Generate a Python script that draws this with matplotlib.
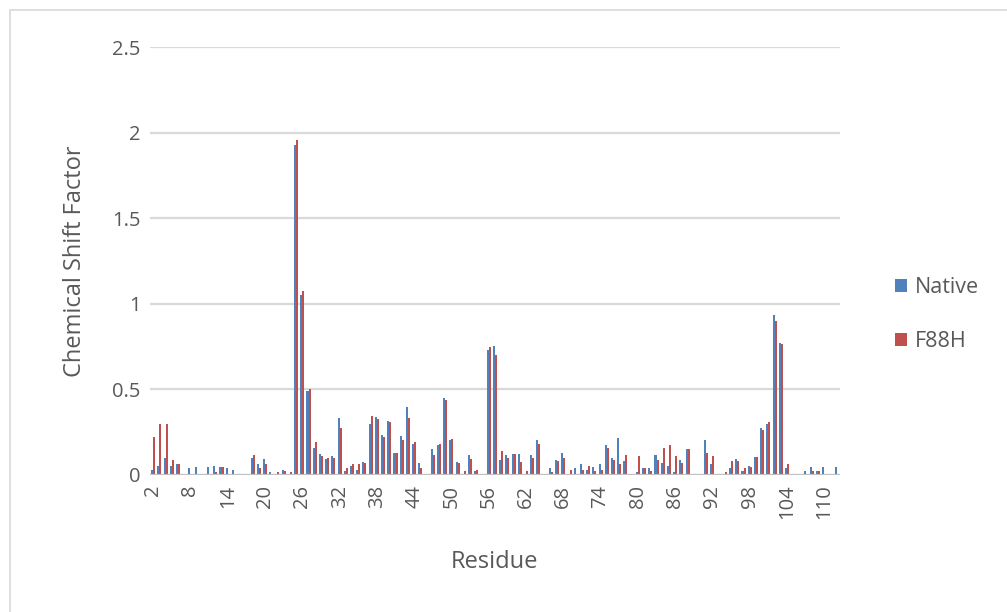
from __future__ import annotations

import matplotlib

matplotlib.use("Agg")
import matplotlib.pyplot as plt
import numpy as np
from matplotlib.patches import Rectangle


RESIDUES = list(range(2, 113))

NATIVE = [
    0.026, 0.055, 0.10, 0.055, 0.063, 0.005, 0.04, 0.047, 0.0, 0.047,    # 2-11
    0.055, 0.047, 0.04, 0.03, 0.0, 0.0, 0.10, 0.063, 0.094, 0.016,       # 12-21
    0.0, 0.03, 0.0, 1.93, 1.05, 0.49, 0.157, 0.125, 0.094, 0.11,         # 22-31
    0.33, 0.024, 0.055, 0.03, 0.078, 0.30, 0.34, 0.235, 0.316, 0.127,    # 32-41
    0.227, 0.394, 0.18, 0.07, 0.0, 0.15, 0.173, 0.45, 0.204, 0.078,      # 42-51
    0.008, 0.118, 0.024, 0.0, 0.73, 0.755, 0.086, 0.118, 0.125, 0.125,   # 52-61
    0.0, 0.118, 0.206, 0.0, 0.04, 0.088, 0.127, 0.008, 0.04, 0.063,      # 62-71
    0.03, 0.047, 0.063, 0.177, 0.10, 0.213, 0.079, 0.0, 0.016, 0.04,     # 72-81
    0.04, 0.118, 0.071, 0.055, 0.016, 0.087, 0.15, 0.0, 0.0, 0.205,     # 82-91
    0.063, 0.0, 0.008, 0.04, 0.094, 0.024, 0.055, 0.102, 0.276, 0.30,   # 92-101
    0.937, 0.772, 0.04, 0.0, 0.0, 0.024, 0.047, 0.024, 0.047, 0.0,      # 102-111
    0.047,                                                              # 112
]

F88H = [
    0.22, 0.295, 0.30, 0.087, 0.063, 0.008, 0.0, 0.008, 0.0, 0.0,       # 2-11
    0.016, 0.047, 0.0, 0.0, 0.0, 0.0, 0.118, 0.04, 0.063, 0.008,        # 12-21
    0.016, 0.024, 0.016, 1.96, 1.075, 0.50, 0.19, 0.11, 0.10, 0.10,     # 22-31
    0.276, 0.04, 0.063, 0.063, 0.07, 0.347, 0.324, 0.22, 0.308, 0.127,  # 32-41
    0.206, 0.33, 0.19, 0.04, 0.0, 0.118, 0.18, 0.44, 0.21, 0.07,        # 42-51
    0.024, 0.094, 0.03, 0.0, 0.75, 0.70, 0.137, 0.10, 0.125, 0.078,     # 52-61
    0.024, 0.10, 0.18, 0.0, 0.016, 0.082, 0.10, 0.03, 0.008, 0.03,      # 62-71
    0.055, 0.024, 0.03, 0.157, 0.087, 0.063, 0.118, 0.0, 0.11, 0.04,    # 72-81
    0.024, 0.087, 0.157, 0.173, 0.11, 0.071, 0.15, 0.0, 0.0, 0.126,     # 82-91
    0.11, 0.0, 0.016, 0.079, 0.079, 0.04, 0.047, 0.102, 0.26, 0.307,    # 92-101
    0.898, 0.764, 0.063, 0.0, 0.0, 0.0, 0.024, 0.024, 0.0, 0.008,       # 102-111
    0.0,                                                                # 112
]

Y_TICKS = [0, 0.5, 1, 1.5, 2, 2.5]
Y_TICK_LABELS = ["0", "0.5", "1", "1.5", "2", "2.5"]
X_LABEL_STEP = 6

BLUE = "#4F81BD"
RED = "#C0504D"
GRID = "#D9D9D9"
TEXT = "#595959"
FONT = ["Open Sans", "DejaVu Sans"]


def main() -> None:
    plt.rcParams["font.family"] = FONT
    fig = plt.figure(figsize=(10.07, 6.12), dpi=100)
    ax = fig.add_axes([0.149, 0.224, 0.685, 0.699])

    # thin chart-area border
    fig.patches.append(Rectangle((10 / 1007, -0.1), 1.2, 1.1 - 10 / 612,
                                 transform=fig.transFigure, fill=False,
                                 edgecolor="#D9D9D9", linewidth=1.2))

    x = np.arange(len(RESIDUES))
    width = 0.33
    ax.bar(x - width / 2, NATIVE, width, color=BLUE, label="Native", zorder=3)
    ax.bar(x + width / 2, F88H, width, color=RED, label="F88H", zorder=3)

    ax.set_xlim(-0.5, len(RESIDUES) - 0.5)
    ax.set_ylim(0, 2.5)
    ax.set_yticks(Y_TICKS)
    ax.set_yticklabels(Y_TICK_LABELS)
    for value in Y_TICKS[1:]:
        ax.axhline(value, color=GRID, linewidth=1.6, zorder=1)
    ax.axhline(0, color="#BFBFBF", linewidth=1.6, zorder=4)

    shown = x[::X_LABEL_STEP]
    ax.set_xticks(shown)
    ax.set_xticklabels([str(RESIDUES[i]) for i in shown], rotation=90, va="top")

    ax.tick_params(axis="both", length=0, colors=TEXT, labelsize=14.5)
    ax.tick_params(axis="y", pad=7)
    ax.tick_params(axis="x", pad=7)
    for spine in ax.spines.values():
        spine.set_visible(False)

    ax.set_xlabel("Residue", fontsize=17, color=TEXT, labelpad=22)
    ax.set_ylabel("Chemical Shift Factor", fontsize=17, color=TEXT, labelpad=18)

    ax.legend(loc="center left", bbox_to_anchor=(1.052, 0.375), frameon=False,
              fontsize=15.5, labelcolor=TEXT, handlelength=0.55, handleheight=0.55,
              handletextpad=0.35, labelspacing=1.55)

    fig.savefig("out.png", dpi=100)
    plt.close(fig)


if __name__ == "__main__":
    main()
